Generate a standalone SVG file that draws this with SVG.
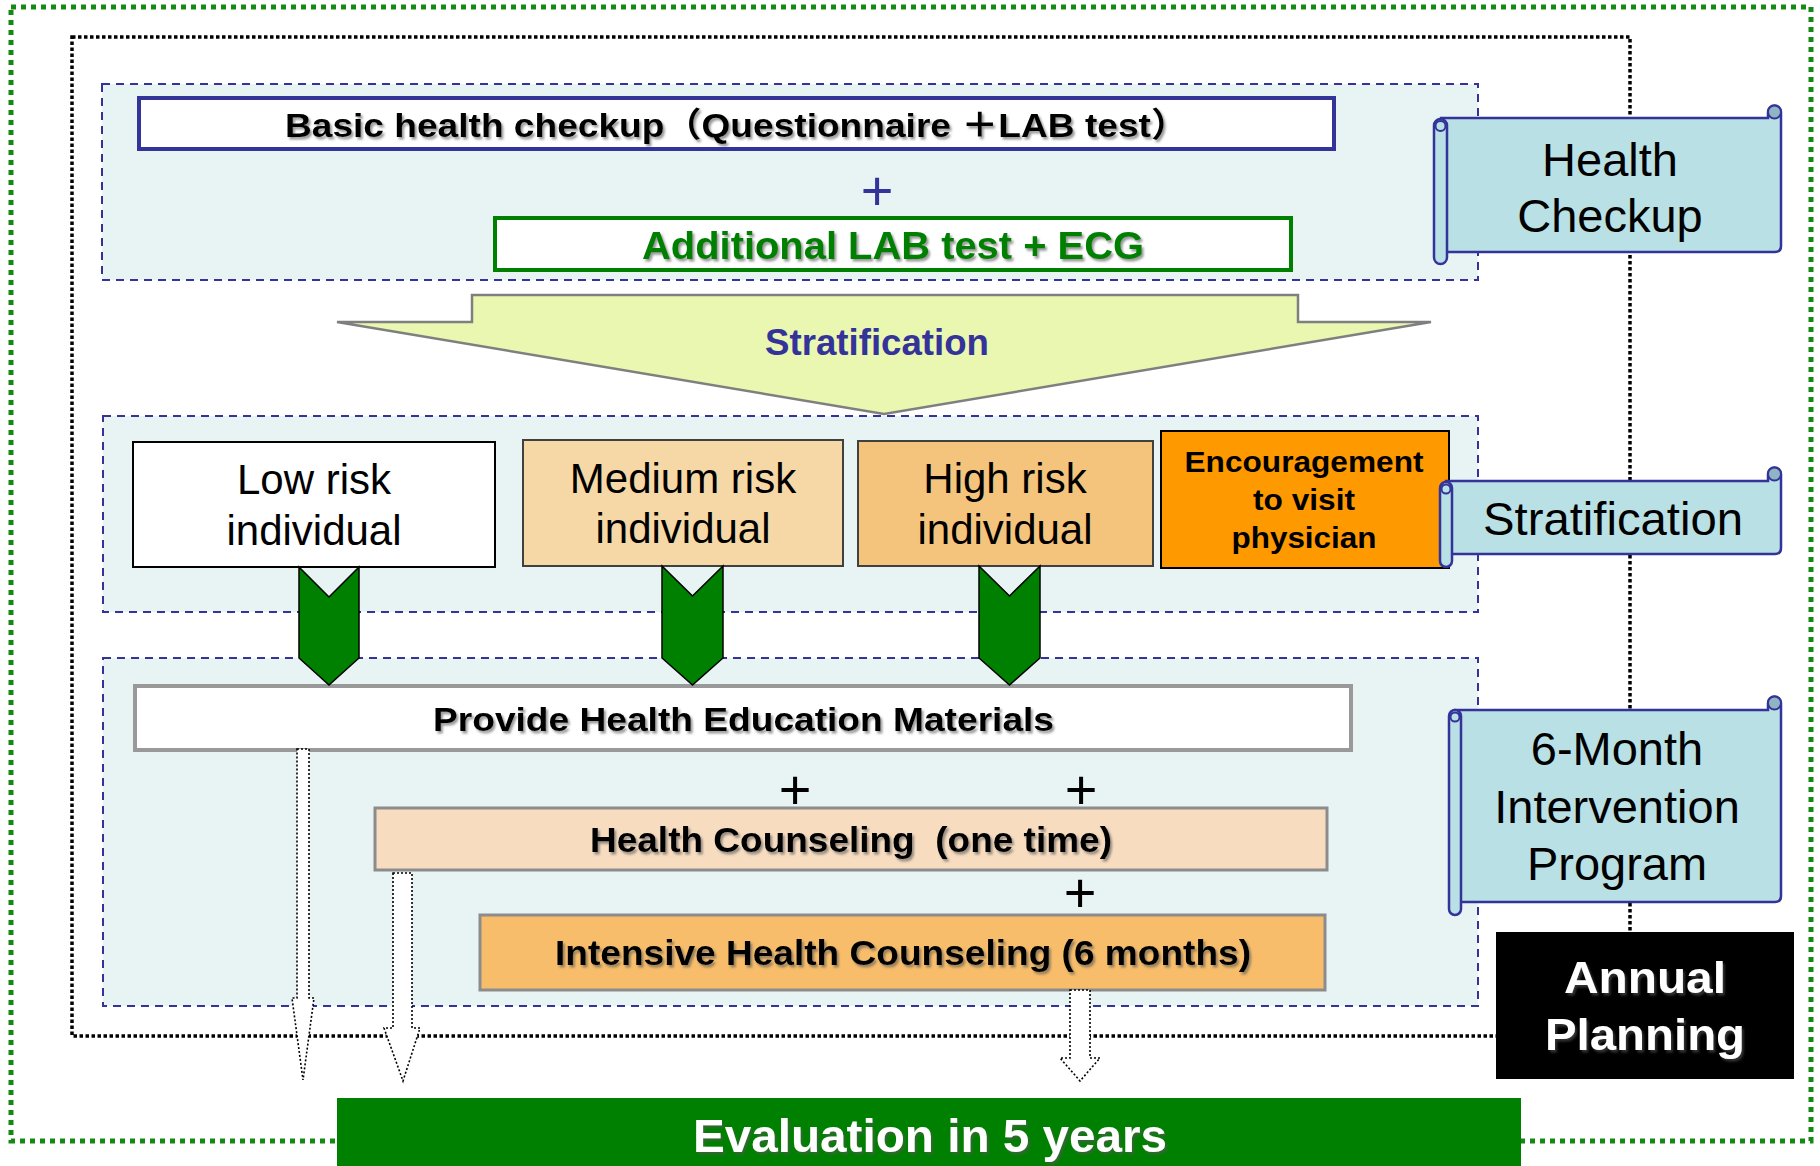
<svg xmlns="http://www.w3.org/2000/svg" width="1820" height="1166" viewBox="0 0 1820 1166">
<defs>
<style>
text{font-family:"Liberation Sans",Arial,"Noto Sans CJK JP",sans-serif;}
.bd{font-weight:bold;}
.grp{fill:#e8f4f4;stroke:#333399;stroke-width:2;stroke-dasharray:8 6;}
.scroll{fill:#b9e0e4;stroke:#333399;stroke-width:2.5;}
.curl{fill:#8fb5c5;stroke:#333399;stroke-width:2;}
.loop{fill:none;stroke:#333399;stroke-width:2;}
.chev{fill:#008000;stroke:#000;stroke-width:1.5;}
.hollow{fill:#fff;stroke:#000;stroke-width:1.6;stroke-dasharray:2 2;}
.plus{font-size:56px;text-anchor:middle;}
.mid{text-anchor:middle;}
</style>
<filter id="sh" x="-10%" y="-30%" width="120%" height="160%">
<feDropShadow dx="2" dy="2.5" stdDeviation="1.2" flood-color="#555" flood-opacity="0.6"/>
</filter>
</defs>
<rect width="1820" height="1166" fill="#fff"/>

<!-- frames -->
<g id="frames">
<rect x="11" y="7" width="1800" height="1134" fill="none" stroke="#148a14" stroke-width="5" stroke-dasharray="5 5"/>
<rect x="72" y="37" width="1558" height="999" fill="none" stroke="#000" stroke-width="3.5" stroke-dasharray="3.5 2.5"/>
</g>

<!-- groups -->
<g id="group-checkup"><rect class="grp" x="102" y="84" width="1376" height="196"/></g>
<g id="group-stratification"><rect class="grp" x="103" y="416" width="1375" height="196"/></g>
<g id="group-intervention"><rect class="grp" x="103" y="658" width="1375" height="348"/></g>

<g id="basic-checkup">
<rect x="139" y="98" width="1195" height="51" fill="#fff" stroke="#333399" stroke-width="4"/>
<text class="bd" x="285" y="137" font-size="34" textLength="903" lengthAdjust="spacingAndGlyphs" filter="url(#sh)">Basic health checkup（Questionnaire ＋LAB test）</text>
</g>
<g id="plus-blue"><text class="plus" x="877" y="210" fill="#333399">+</text></g>
<g id="additional-lab">
<rect x="495" y="218" width="796" height="52" fill="#fff" stroke="#008000" stroke-width="4"/>
<text class="bd mid" x="893" y="259" font-size="38" fill="#008000" textLength="502" lengthAdjust="spacingAndGlyphs" filter="url(#sh)">Additional LAB test + ECG</text>
</g>

<g id="stratification-arrow">
<polygon points="472,295 1298,295 1298,322 1431,322 884,414 337,322 472,322" fill="#e9f7b0" stroke="#7f7f7f" stroke-width="2.5"/>
<text class="bd mid" x="877" y="355" font-size="36" fill="#333399" textLength="224" lengthAdjust="spacingAndGlyphs">Stratification</text>
</g>

<g id="low-risk">
<rect x="133" y="442" width="362" height="125" fill="#fff" stroke="#000" stroke-width="2"/>
<text class="mid" x="314" y="494" font-size="42">Low risk</text>
<text class="mid" x="314" y="545" font-size="42">individual</text>
</g>
<g id="medium-risk">
<rect x="523" y="440" width="320" height="126" fill="#f6d8a6" stroke="#404040" stroke-width="2"/>
<text class="mid" x="683" y="493" font-size="42">Medium risk</text>
<text class="mid" x="683" y="543" font-size="42">individual</text>
</g>
<g id="high-risk">
<rect x="858" y="441" width="295" height="125" fill="#f5c47c" stroke="#404040" stroke-width="2"/>
<text class="mid" x="1005" y="493" font-size="42">High risk</text>
<text class="mid" x="1005" y="544" font-size="42">individual</text>
</g>
<g id="encouragement">
<rect x="1161" y="431" width="288" height="137" fill="#ff9900" stroke="#000" stroke-width="2"/>
<text class="bd mid" x="1304" y="472" font-size="30" textLength="239" lengthAdjust="spacingAndGlyphs">Encouragement</text>
<text class="bd mid" x="1304" y="510" font-size="30" textLength="102" lengthAdjust="spacingAndGlyphs">to visit</text>
<text class="bd mid" x="1304" y="548" font-size="30" textLength="145" lengthAdjust="spacingAndGlyphs">physician</text>
</g>

<g id="health-education">
<rect x="135" y="686" width="1216" height="64" fill="#fff" stroke="#999" stroke-width="4"/>
<text class="bd mid" x="743.5" y="731" font-size="34" textLength="621" lengthAdjust="spacingAndGlyphs" filter="url(#sh)">Provide Health Education Materials</text>
</g>
<g id="plus-1"><text class="plus" x="795" y="809">+</text></g>
<g id="plus-2"><text class="plus" x="1081" y="809">+</text></g>
<g id="health-counseling">
<rect x="375" y="808" width="952" height="62" fill="#f7dcc0" stroke="#8c8c8c" stroke-width="3"/>
<text class="bd mid" x="851" y="852" font-size="35" textLength="522" lengthAdjust="spacingAndGlyphs" xml:space="preserve" style="white-space:pre" filter="url(#sh)">Health Counseling  (one time)</text>
</g>
<g id="plus-3"><text class="plus" x="1080" y="912">+</text></g>
<g id="intensive-counseling">
<rect x="480" y="915" width="845" height="75" fill="#f7bd6a" stroke="#8c8c8c" stroke-width="3"/>
<text class="bd mid" x="903" y="965" font-size="35" textLength="696" lengthAdjust="spacingAndGlyphs" filter="url(#sh)">Intensive Health Counseling (6 months)</text>
</g>

<!-- scrolls -->
<g id="scroll-health-checkup">
<path class="scroll" d="M1441,118 H1768 V112 A6.5,6.5 0 0 1 1781,112 V246 Q1781,252 1775,252 H1441 Z"/>
<circle class="curl" cx="1774.5" cy="112" r="6.5"/>
<rect class="scroll" x="1434" y="119" width="13" height="145" rx="6.5"/>
<circle class="loop" cx="1440.5" cy="126" r="5"/>
<text class="mid" x="1610" y="176" font-size="47">Health</text>
<text class="mid" x="1610" y="232" font-size="47">Checkup</text>
</g>
<g id="scroll-stratification">
<path class="scroll" d="M1446,481 H1768 V474 A6.5,6.5 0 0 1 1781,474 V548 Q1781,554 1775,554 H1446 Z"/>
<circle class="curl" cx="1774.5" cy="474" r="6.5"/>
<rect class="scroll" x="1440" y="482" width="12" height="85" rx="6"/>
<circle class="loop" cx="1446" cy="489" r="4.5"/>
<text class="mid" x="1613" y="535" font-size="46" textLength="260" lengthAdjust="spacingAndGlyphs">Stratification</text>
</g>
<g id="scroll-intervention">
<path class="scroll" d="M1455,710 H1768 V703 A6.5,6.5 0 0 1 1781,703 V896 Q1781,902 1775,902 H1455 Z"/>
<circle class="curl" cx="1774.5" cy="703" r="6.5"/>
<rect class="scroll" x="1449" y="710" width="12" height="205" rx="6"/>
<circle class="loop" cx="1455" cy="717" r="4.5"/>
<text class="mid" x="1617" y="765" font-size="47">6-Month</text>
<text class="mid" x="1617" y="823" font-size="47">Intervention</text>
<text class="mid" x="1617" y="880" font-size="47">Program</text>
</g>

<g id="annual-planning">
<rect x="1496" y="932" width="298" height="147" fill="#000"/>
<text class="bd mid" x="1645" y="993" font-size="44" fill="#fff" textLength="162" lengthAdjust="spacingAndGlyphs" filter="url(#sh)">Annual</text>
<text class="bd mid" x="1645" y="1050" font-size="44" fill="#fff" textLength="200" lengthAdjust="spacingAndGlyphs" filter="url(#sh)">Planning</text>
</g>

<g id="evaluation">
<rect x="337" y="1098" width="1184" height="80" fill="#008000"/>
<text class="bd mid" x="930" y="1152" font-size="47" fill="#fff" textLength="474" lengthAdjust="spacingAndGlyphs" filter="url(#sh)">Evaluation in 5 years</text>
</g>

<!-- connectors -->
<g id="connectors">
<path class="chev" d="M299,567 L329,597 L359,567 L359,658 L329,685 L299,658 Z"/>
<path class="chev" d="M662,566 L692.5,596 L723,566 L723,658 L692.5,685 L662,658 Z"/>
<path class="chev" d="M979,566 L1009.5,596 L1040,566 L1040,658 L1009.5,685 L979,658 Z"/>
<path class="hollow" d="M297,749 L309,749 L309,998 L314,998 L303,1080 L292,998 L297,998 Z"/>
<path class="hollow" d="M393,873 L412,873 L412,1028 L420,1028 L403,1081 L384,1028 L393,1028 Z"/>
<path class="hollow" d="M1070,990 L1090,990 L1090,1058 L1100,1058 L1080,1081 L1060,1058 L1070,1058 Z"/>
</g>
</svg>
